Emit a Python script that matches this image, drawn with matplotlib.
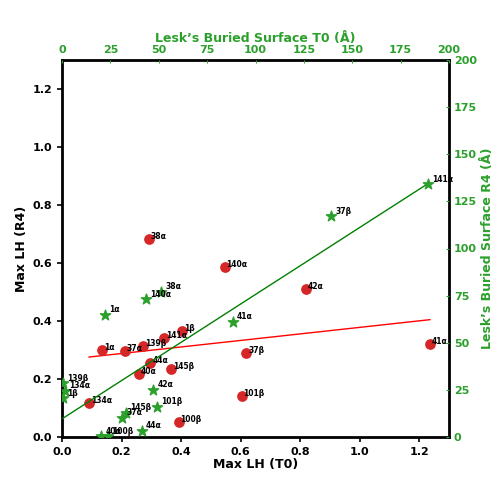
import numpy as np
import matplotlib
matplotlib.use("Agg")
import matplotlib.pyplot as plt

names = ["134α", "1α", "37α", "40α", "139β", "38α", "44α", "141α", "145β",
         "100β", "1β", "140α", "101β", "37β", "42α", "41α"]
maxlh_t0 = [0.091, 0.136, 0.212, 0.257, 0.272, 0.291, 0.297, 0.343, 0.367,
            0.392, 0.403, 0.547, 0.603, 0.619, 0.819, 1.236]
maxlh_r4 = [0.117, 0.300, 0.296, 0.216, 0.315, 0.683, 0.255, 0.340, 0.233,
            0.053, 0.365, 0.585, 0.142, 0.291, 0.510, 0.321]

star_names = ["38α", "140α", "1α", "41α", "42α", "101β", "145β", "37α", "44α",
              "40α", "100β", "139β", "134α", "1β", "141α", "37β"]
lesk_t0 = [51.2, 43.2, 22.1, 88.2, 47.2, 49.3, 33.1, 31.0, 41.2,
           20.2, 23.8, 0.3, 1.5, 0.3, 189.3, 139.2]
lesk_r4 = [77.1, 73.0, 64.9, 61.2, 25.1, 16.1, 12.9, 10.1, 3.2,
           0.5, 0.5, 28.5, 24.5, 20.5, 134.2, 117.1]

GREEN = "#2ca02c"
plt.rcParams['font.family'] = ['DejaVu Sans']
plt.rcParams['font.weight'] = 'bold'

fig = plt.figure(figsize=(5, 5), dpi=100)
ax = fig.add_axes([0.124, 0.126, 0.774, 0.754])
ax.scatter(maxlh_t0, maxlh_r4, s=45, color="#d62728", zorder=3)
for n, x, y in zip(names, maxlh_t0, maxlh_r4):
    ax.annotate(n, (x, y), xytext=(1.3, 0), textcoords="offset points",
                fontsize=5.5, fontweight='bold', zorder=4)
c = np.polyfit(maxlh_t0, maxlh_r4, 1)
xr = np.array([min(maxlh_t0), max(maxlh_t0)])
ax.plot(xr, np.polyval(c, xr), color="red", lw=1)
ax.set_xlim(0, 1.3)
ax.set_ylim(0, 1.3)
ax.set_xticks([0, 0.2, 0.4, 0.6, 0.8, 1.0, 1.2])
ax.set_yticks([0, 0.2, 0.4, 0.6, 0.8, 1.0, 1.2])
ax.set_xlabel("Max LH (T0)", fontsize=9, fontweight='bold', labelpad=1)
ax.set_ylabel("Max LH (R4)", fontsize=9, fontweight='bold', labelpad=3)
ax.tick_params(labelsize=8, width=1.2, length=3.5)
for s in ax.spines.values():
    s.set_linewidth(2)

ax2 = fig.add_axes(ax.get_position(), frameon=False)
ax2.xaxis.tick_top()
ax2.xaxis.set_label_position("top")
ax2.yaxis.tick_right()
ax2.yaxis.set_label_position("right")
ax2.scatter(lesk_t0, lesk_r4, s=60, marker="*", color=GREEN, zorder=3)
for n, x, y in zip(star_names, lesk_t0, lesk_r4):
    ax2.annotate(n, (x, y), xytext=(3, 1.8), textcoords="offset points",
                 fontsize=5.5, fontweight='bold', zorder=4)
c2 = np.polyfit(lesk_t0, lesk_r4, 1)
xr2 = np.array([min(lesk_t0), max(lesk_t0)])
ax2.plot(xr2, np.polyval(c2, xr2), color="green", lw=1)
ax2.set_xlim(0, 200)
ax2.set_ylim(0, 200)
ax2.set_xticks(np.arange(0, 201, 25))
ax2.set_yticks(np.arange(0, 201, 25))
ax2.tick_params(colors=GREEN, labelsize=8, direction="in", length=2.5)
ax2.set_xlabel("Lesk’s Buried Surface T0 (Å)", color=GREEN, fontsize=9,
               fontweight='bold', labelpad=2)
ax2.set_ylabel("Lesk’s Buried Surface R4 (Å)", color=GREEN, fontsize=9,
               fontweight='bold', labelpad=3)
for lab in ax.get_xticklabels() + ax.get_yticklabels() + ax2.get_xticklabels() + ax2.get_yticklabels():
    lab.set_fontweight('bold')

fig.savefig("out.png", dpi=100)
